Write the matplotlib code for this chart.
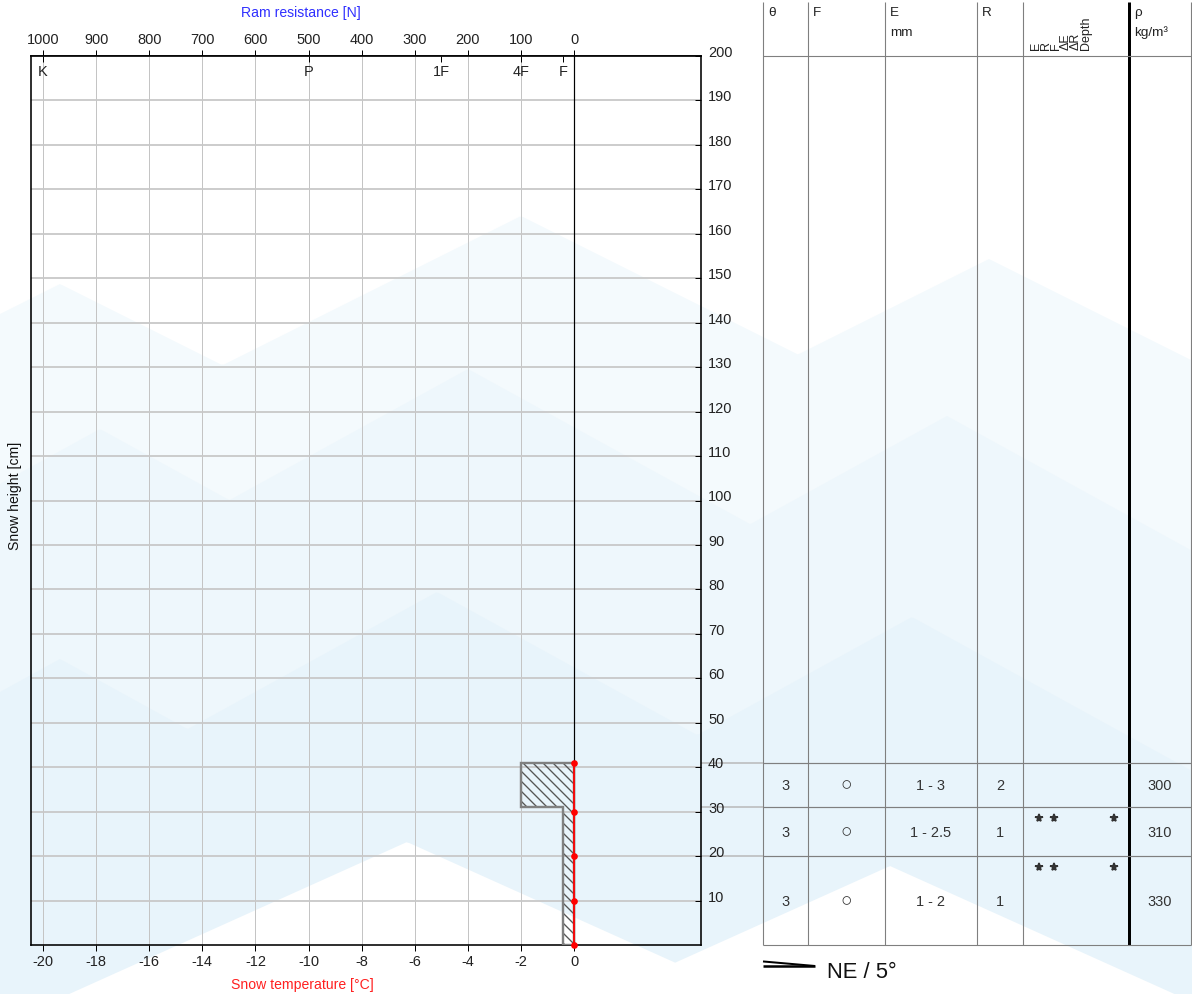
import matplotlib.pyplot as plt
from matplotlib.patches import Polygon
import numpy as np

plt.rcParams['font.family'] = ['Liberation Sans', 'DejaVu Sans']
plt.rcParams['hatch.linewidth'] = 0.8

W, H, DPI = 1192, 995, 120


def px(v):
    # pixel size -> points at the figure dpi
    return v * 72 / DPI


# ---- data ----
temp_ticks = np.arange(-20, 1, 2)
ram_ticks = np.arange(0, 1001, 100)
height_ticks = np.arange(10, 201, 10)
hand_labels = ['K', 'P', '1F', '4F', 'F']
hand_force = [1000, 500, 250, 100, 20]

layer_top = [41, 31, 20]
layer_bottom = [31, 20, 0]
layer_force = [100, 20, 20]
layer_theta = ['3', '3', '3']
layer_form = ['○', '○', '○']
layer_size = ['1 - 3', '1 - 2.5', '1 - 2']
layer_hardness = ['2', '1', '1']
layer_density = ['300', '310', '330']
layer_lemons = [[], ['E', 'R', 'Depth'], ['E', 'R', 'Depth']]
lemon_names = ['E', 'R', 'F', 'ΔE', 'ΔR', 'Depth']

temp_height = [41, 30, 20, 10, 0]
temp_value = [0, 0, 0, 0, 0]

aspect = 'NE'
slope_deg = 5

# ---- figure ----
fig = plt.figure(figsize=(W / DPI, H / DPI), dpi=DPI)
bg = fig.add_axes([0, 0, 1, 1], zorder=0)
bg.set_xlim(0, W)
bg.set_ylim(H, 0)
bg.axis('off')

# faint mountain watermark
xs = np.linspace(0, W, 400)
ranges = [
    ('#f4fafd', [(60, 285), (521, 217), (989, 260)], 0.5),
    ('#eef7fc', [(100, 430), (468, 370), (947, 417)], 0.55),
    ('#e8f4fb', [(60, 660), (437, 593), (912, 618)], 0.55),
    ('#ffffff', [(407, 843), (890, 867)], 0.45),
]
for color, peaks, s in ranges:
    ys = np.min([py + s * np.abs(xs - pxx) for pxx, py in peaks], axis=0)
    pts = list(zip(xs, ys)) + [(W, H), (0, H)]
    bg.add_patch(Polygon(pts, closed=True, facecolor=color, edgecolor='none', zorder=0))

# ---- profile chart ----
ax = fig.add_axes([31 / W, (H - 946) / H, 670 / W, 889 / H], zorder=1)
ax.patch.set_alpha(0)
ax.set_xlim(-20.45, 4.78)
ax.set_ylim(0, 200)

ax.set_xticks(temp_ticks)
ax.set_xticklabels([f'{t:d}' for t in temp_ticks])
ax.tick_params(axis='x', direction='out', length=px(6), width=px(1), pad=px(3),
               labelsize=px(14.5), labelcolor='#222')
ax.yaxis.tick_right()
ax.set_yticks(height_ticks)
ax.tick_params(axis='y', direction='in', length=px(6), width=px(1), pad=px(7),
               labelsize=px(14.5), labelcolor='#222')
for lbl in ax.get_yticklabels():
    lbl.set_va('baseline')

ax.xaxis.grid(True, color='#c4c4c4', lw=px(1))
ax.yaxis.grid(True, color='#c8c8c8', lw=px(1.8))
ax.set_axisbelow(True)
for sp in ax.spines.values():
    sp.set_linewidth(px(1.6))
ax.axvline(0, color='k', lw=px(1.2), zorder=2)

sec = ax.secondary_xaxis('top', functions=(lambda t: -50 * t, lambda n: -n / 50))
sec.set_xticks(ram_ticks)
sec.tick_params(direction='inout', length=px(13), width=px(1), pad=px(3),
                labelsize=px(14.5), labelcolor='#222')
sec.spines['top'].set_linewidth(px(1.6))

# hand hardness marks
hand_x = [-f / 50 for f in hand_force]
ax.plot(hand_x, [200] * len(hand_x), ls='none', marker=3, ms=px(6), mew=px(1),
        color='k', clip_on=False, zorder=5)
for lbl, x in zip(hand_labels, hand_x):
    ax.annotate(lbl, (x, 200), xytext=(0, -px(15)), textcoords='offset points',
                ha='center', va='center', fontsize=px(14.5), color='#222')

# hardness profile (force mapped on temperature axis: 50 N per degree)
prof = [(0, layer_top[0])]
for top, bot, f in zip(layer_top, layer_bottom, layer_force):
    prof += [(-f / 50, top), (-f / 50, bot)]
prof.append((0, layer_bottom[-1]))
ax.add_patch(Polygon(prof, closed=True, facecolor='none', edgecolor='#555555',
                     hatch='\\\\\\\\', lw=0, zorder=3))
ax.add_patch(Polygon(prof, closed=True, facecolor='none', edgecolor='#808080',
                     lw=px(2.4), zorder=3))

# temperature profile
ax.plot(temp_value, temp_height, color='red', lw=px(1.8), marker='o', ms=px(5),
        clip_on=False, zorder=4)

# axis titles
bg.text(301, 13, 'Ram resistance [N]', color='#3030ff', ha='center', va='center',
        fontsize=px(14))
bg.text(302, 985, 'Snow temperature [°C]', color='#ff2020', ha='center', va='center',
        fontsize=px(14))
bg.text(15, 496, 'Snow height [cm]', rotation=90, ha='center', va='center',
        fontsize=px(14), color='#111')


# ---- layer table ----
def ypx(h):
    return H - ax.transData.transform((0, h))[1]


col_edges = [763, 808, 885, 977, 1023, 1129, 1191]
tab_top = 3
y_base, y_head = ypx(0), ypx(200)
gray = '#7f7f7f'
for i, x in enumerate(col_edges):
    if i == 5:
        bg.vlines(x, tab_top, y_base, color='k', lw=px(3), zorder=2)
    else:
        bg.vlines(x, tab_top, y_base, color=gray, lw=px(1.1), zorder=2)
bg.hlines([y_head, y_base], col_edges[0], col_edges[-1], color=gray, lw=px(1.1), zorder=2)
for t in layer_top:
    bg.hlines(ypx(t), 701, col_edges[0], color='#b8b8b8', lw=px(1.5), zorder=2)
    bg.hlines(ypx(t), col_edges[0], col_edges[-1], color=gray, lw=px(1.2), zorder=2)

head_fs = px(13.5)
for x, txt in zip([col_edges[0], col_edges[1], col_edges[2], col_edges[3], col_edges[5]],
                  ['θ', 'F', 'E', 'R', 'ρ']):
    bg.text(x + 5, 13, txt, ha='left', va='center', fontsize=head_fs, color='#222')
bg.text(col_edges[2] + 5, 33, 'mm', ha='left', va='center', fontsize=head_fs, color='#222')
bg.text(col_edges[5] + 5, 33, 'kg/m³', ha='left', va='center', fontsize=head_fs, color='#222')
lemon_head_x = [1036, 1046, 1056, 1066, 1076, 1086]
for x, name in zip(lemon_head_x, lemon_names):
    bg.text(x, 50, name, rotation=90, ha='center', va='bottom', fontsize=px(12.5),
            color='#222')

centers = [(a + b) / 2 for a, b in zip(col_edges[:-1], col_edges[1:])]
star_x = {name: 1039 + 15 * k for k, name in enumerate(lemon_names)}
for i in range(len(layer_top)):
    ym = ypx((layer_top[i] + layer_bottom[i]) / 2)
    row = [layer_theta[i], layer_form[i], layer_size[i], layer_hardness[i]]
    for c, txt in zip(centers[:4], row):
        fs = px(19) if txt == '○' else px(14.5)
        bg.text(c, ym, txt, ha='center', va='center', fontsize=fs, color='#333')
    bg.text(centers[5], ym, layer_density[i], ha='center', va='center',
            fontsize=px(14.5), color='#333')
    if layer_lemons[i]:
        sx = [star_x[n] for n in layer_lemons[i]]
        bg.plot(sx, [ypx(layer_top[i]) + 11] * len(sx), ls='none', marker='*',
                ms=px(8), color='#333', zorder=3)

# slope wedge and aspect
wx0, wx1, wy = 763, 815, 967
bg.plot([wx0, wx1], [wy, wy], color='k', lw=px(2.5), solid_capstyle='butt')
bg.plot([wx0, wx1], [wy - (wx1 - wx0) * np.tan(np.radians(slope_deg)), wy], color='k',
        lw=px(2), solid_capstyle='butt')
bg.text(827, 972, f'{aspect} / {slope_deg}°', ha='left', va='center', fontsize=px(22),
        color='#111')

fig.savefig('out.png', dpi=DPI)
